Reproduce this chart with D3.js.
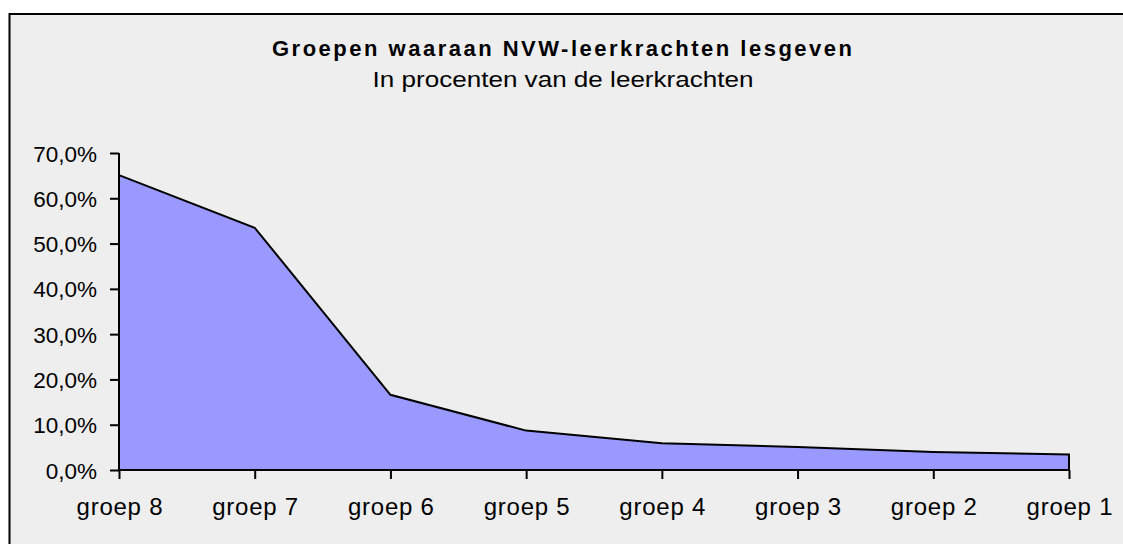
<!DOCTYPE html>
<html>
<head>
<meta charset="utf-8">
<script src="https://cdn.jsdelivr.net/npm/d3@7"></script>
<style>
  body { margin: 0; background: #fff; }
  svg { display: block; font-family: "Liberation Sans", Arial, sans-serif; }
</style>
</head>
<body>
<div id="container"></div>
<script>
/* DATA */
const groups = ["groep 8", "groep 7", "groep 6", "groep 5", "groep 4", "groep 3", "groep 2", "groep 1"];
const shares = [0.651, 0.535, 0.166, 0.087, 0.059, 0.051, 0.040, 0.034];
const yTicks = [0, 0.1, 0.2, 0.3, 0.4, 0.5, 0.6, 0.7];

const width = 1123, height = 544;
const margin = { top: 153, bottom: 74, left: 119, right: 54 };

const svg = d3.select("#container").append("svg")
  .attr("width", width)
  .attr("height", height);

// chart frame (runs off the right and bottom edge)
svg.append("rect")
  .attr("x", 9.5).attr("y", 14)
  .attr("width", 1200).attr("height", 600)
  .attr("fill", "#eeeeee")
  .attr("stroke", "#000")
  .attr("stroke-width", 2);

/* TITLES */
svg.append("text")
  .attr("x", 562).attr("y", 56)
  .attr("text-anchor", "middle")
  .attr("font-size", 22)
  .attr("font-weight", "bold")
  .attr("textLength", 580)
  .attr("lengthAdjust", "spacing")
  .text("Groepen waaraan NVW-leerkrachten lesgeven");

svg.append("text")
  .attr("x", 563).attr("y", 87)
  .attr("text-anchor", "middle")
  .attr("font-size", 22.5)
  .attr("textLength", 381)
  .attr("lengthAdjust", "spacingAndGlyphs")
  .text("In procenten van de leerkrachten");

/* SCALES */
const x = d3.scalePoint()
  .domain(groups)
  .range([margin.left, width - margin.right]);

const y = d3.scaleLinear()
  .domain([0, 0.7])
  .range([height - margin.bottom, margin.top]);

const data = groups.map((g, i) => ({ group: g, value: shares[i] }));

/* AREA */
const area = d3.area()
  .x(d => x(d.group))
  .y0(y(0))
  .y1(d => y(d.value));

svg.append("path")
  .datum(data)
  .attr("d", area)
  .attr("fill", "#9999ff")
  .attr("stroke", "#000")
  .attr("stroke-width", 2)
  .attr("stroke-linejoin", "miter");

/* AXES */
const fmt = v => d3.format(".1%")(v).replace(".", ",");

const yAxis = svg.append("g")
  .attr("transform", `translate(${margin.left},0)`)
  .call(d3.axisLeft(y).tickValues(yTicks).tickFormat(fmt).tickSize(9).tickPadding(13));

const xAxis = svg.append("g")
  .attr("transform", `translate(0,${height - margin.bottom})`)
  .call(d3.axisBottom(x).tickSize(9).tickPadding(19));

[yAxis, xAxis].forEach(g => {
  g.select(".domain").attr("stroke", "#000").attr("stroke-width", 2);
  g.selectAll(".tick line").attr("stroke", "#000").attr("stroke-width", 2);
  g.selectAll(".tick text")
    .attr("fill", "#000")
    .attr("font-family", "'Liberation Sans', Arial, sans-serif");
});
yAxis.select(".domain").attr("d", `M0,${y(0.7)}V${y(0)}`);
yAxis.selectAll(".tick text").attr("font-size", 22.5).attr("dy", "0.36em");
xAxis.select(".domain").attr("d", `M${x(groups[0])},0H${x(groups[groups.length - 1])}`);
xAxis.selectAll(".tick text")
  .attr("font-size", 24)
  .attr("textLength", 86)
  .attr("lengthAdjust", "spacing");
</script>
</body>
</html>
